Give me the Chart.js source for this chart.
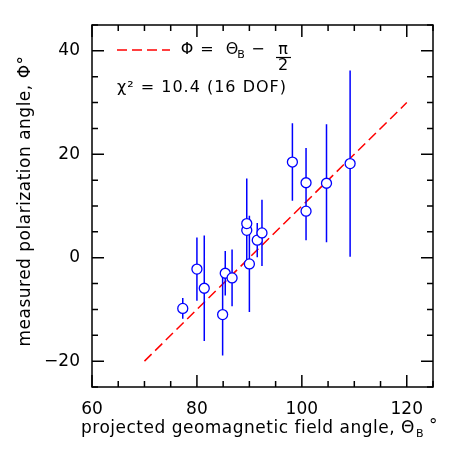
<!DOCTYPE html>
<html>
<head>
<meta charset="utf-8">
<script src="https://cdn.jsdelivr.net/npm/chart.js@4"></script>
<style>
  html, body { margin: 0; padding: 0; background: #fff; }
  canvas { display: block; }
</style>
</head>
<body>
<canvas id="chart" width="457" height="457"></canvas>
<script>
// Data
let theta = [77.3, 80.0, 81.4, 84.9, 85.4, 86.7, 89.5, 89.5, 90.0, 91.5, 92.4, 98.2, 100.8, 100.8, 104.7, 109.2];
let phi = [-9.8, -2.2, -5.9, -11.0, -3.0, -3.9, 5.3, 6.6, -1.2, 3.4, 4.8, 18.5, 14.5, 9.0, 14.4, 18.2];
let phiErr = [2.0, 6.1, 10.2, 7.9, 4.3, 5.5, 5.0, 8.7, 9.3, 3.3, 6.4, 7.5, 6.7, 5.6, 11.4, 18.0];

// model line  Phi = Theta_B - pi/2
let modelX = [70, 120];
let modelY = [-20, 30];

let xTicks = [60, 80, 100, 120];
let yTicks = [-20, 0, 20, 40];

const FONT = '"DejaVu Sans", sans-serif';

// error bars as separate segments, broken by nulls
let errData = [];
theta.forEach((t, i) => {
    errData.push({x: t, y: phi[i] - phiErr[i]});
    errData.push({x: t, y: phi[i] + phiErr[i]});
    errData.push({x: t, y: null});
});

// box, inward ticks on all four sides, titles and the key
const frame = {
    id: "frame",
    afterDraw(chart) {
        const {ctx, chartArea: a, scales: {x, y}} = chart;
        ctx.save();
        ctx.strokeStyle = "#000";
        ctx.lineWidth = 1.5;
        ctx.strokeRect(a.left, a.top, a.right - a.left, a.bottom - a.top);

        ctx.beginPath();
        for (let v = x.min; v <= x.max; v += 5) {
            let px = x.getPixelForValue(v);
            let len = v % 20 === 0 ? 12 : 6;
            ctx.moveTo(px, a.bottom); ctx.lineTo(px, a.bottom - len);
            ctx.moveTo(px, a.top); ctx.lineTo(px, a.top + len);
        }
        for (let v = y.min; v <= y.max; v += 5) {
            let py = y.getPixelForValue(v);
            let len = v % 20 === 0 ? 12 : 6;
            ctx.moveTo(a.left, py); ctx.lineTo(a.left + len, py);
            ctx.moveTo(a.right, py); ctx.lineTo(a.right - len, py);
        }
        ctx.stroke();

        ctx.fillStyle = "#000";
        ctx.textBaseline = "alphabetic";

        // x title
        ctx.font = "17px " + FONT;
        ctx.letterSpacing = "0.5px";
        ctx.textAlign = "left";
        let xt = "projected geomagnetic field angle, \u0398";
        let tx = 81, ty = 433;
        ctx.fillText(xt, tx, ty);
        let w = ctx.measureText(xt).width;
        ctx.font = "11px " + FONT;
        ctx.fillText("B", tx + w + 1, ty + 4);
        ctx.font = "17px " + FONT;
        ctx.fillText("\u00b0", tx + w + 14, ty - 2);

        // y title
        ctx.save();
        ctx.translate(30, 201);
        ctx.rotate(-Math.PI / 2);
        ctx.textAlign = "center";
        ctx.fillText("measured polarization angle, \u03a6\u00b0", 0, 0);
        ctx.restore();
        ctx.letterSpacing = "0px";

        // key: dashed line and formula
        ctx.strokeStyle = "red";
        ctx.setLineDash([10, 5]);
        ctx.beginPath();
        ctx.moveTo(a.left + 25, 50);
        ctx.lineTo(a.left + 78, 50);
        ctx.stroke();
        ctx.setLineDash([]);

        ctx.textAlign = "center";
        ctx.font = "16px " + FONT;
        ctx.fillText("\u03a6", 187, 54);
        ctx.fillText("=", 207, 54);
        ctx.fillText("\u0398", 232, 54);
        ctx.fillText("\u2212", 258, 54);
        ctx.fillText("\u03c0", 283, 54);
        ctx.fillText("2", 283, 70);
        ctx.font = "11px " + FONT;
        ctx.fillText("B", 241, 58);
        ctx.strokeStyle = "#000";
        ctx.lineWidth = 1.2;
        ctx.beginPath();
        ctx.moveTo(276, 57.5); ctx.lineTo(291, 57.5);
        ctx.stroke();

        ctx.textAlign = "left";
        ctx.font = "16px " + FONT;
        ctx.letterSpacing = "1px";
        ctx.fillText("\u03c7\u00b2 = 10.4 (16 DOF)", 117, 92);
        ctx.restore();
    }
};

new Chart(document.getElementById("chart"), {
    type: "scatter",
    data: {
        datasets: [{
            label: "data",
            data: theta.map((t, i) => ({x: t, y: phi[i]})),
            pointStyle: "circle",
            pointRadius: 5,
            borderColor: "blue",
            backgroundColor: "white",
            borderWidth: 1.3,
            order: 1
        }, {
            label: "errors",
            type: "line",
            data: errData,
            showLine: true,
            spanGaps: false,
            borderColor: "blue",
            borderWidth: 1.5,
            pointRadius: 0,
            order: 2
        }, {
            label: "model",
            type: "line",
            data: modelX.map((v, i) => ({x: v, y: modelY[i]})),
            borderColor: "red",
            borderDash: [10, 5],
            borderWidth: 1.5,
            pointRadius: 0,
            order: 3
        }]
    },
    options: {
        responsive: false,
        animation: false,
        layout: {padding: {top: 25, right: 24, left: 0, bottom: 0}},
        plugins: {legend: {display: false}, tooltip: {enabled: false}},
        scales: {
            x: {
                type: "linear", min: 60, max: 125,
                afterBuildTicks: s => { s.ticks = xTicks.map(v => ({value: v})); },
                afterFit: s => { s.height = 70; },
                grid: {display: false},
                border: {display: false},
                ticks: {padding: 4, maxRotation: 0, color: "#000", font: {family: FONT, size: 17}}
            },
            y: {
                type: "linear", min: -25, max: 45,
                afterBuildTicks: s => { s.ticks = yTicks.map(v => ({value: v})); },
                afterFit: s => { s.width = 92; },
                grid: {display: false},
                border: {display: false},
                ticks: {padding: 4, color: "#000", font: {family: FONT, size: 17},
                        callback: v => v < 0 ? "\u2212" + Math.abs(v) : String(v)}
            }
        }
    },
    plugins: [frame]
});
</script>
</body>
</html>
